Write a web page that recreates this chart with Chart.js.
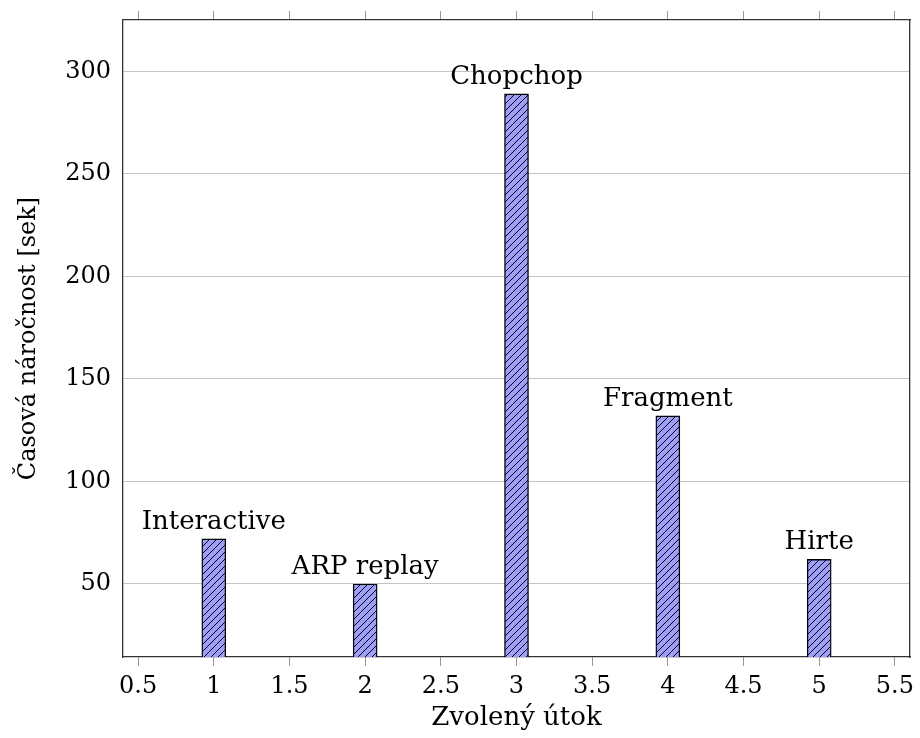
<!DOCTYPE html>
<html>
<head>
<meta charset="utf-8">
<script src="https://cdn.jsdelivr.net/npm/chart.js@4/dist/chart.umd.min.js"></script>
<style>
  html, body { margin: 0; padding: 0; background: #fff; }
  #wrap { width: 920px; height: 738px; }
</style>
</head>
<body>
<div id="wrap"><canvas id="c" width="920" height="738"></canvas></div>
<script>
// data
var attackPos = [1, 2, 3, 4, 5];
var attackNames = ['Interactive', 'ARP replay', 'Chopchop', 'Fragment', 'Hirte'];
var timeSec = [72, 50, 289, 132, 62];
var xTicks = [0.5, 1, 1.5, 2, 2.5, 3, 3.5, 4, 4.5, 5, 5.5];
var yTicks = [50, 100, 150, 200, 250, 300];

var serif = '"DejaVu Serif", "Liberation Serif", serif';

// hatched fill like pgfplots north east lines
function hatch() {
    var s = 7;
    var p = document.createElement('canvas');
    p.width = s; p.height = s;
    var g = p.getContext('2d');
    g.fillStyle = '#9d9dfa';
    g.fillRect(0, 0, s, s);
    g.strokeStyle = '#000';
    g.lineWidth = 1;
    g.beginPath();
    g.moveTo(-1, s + 1); g.lineTo(s + 1, -1);
    g.moveTo(-1, 1); g.lineTo(1, -1);
    g.moveTo(s - 1, s + 1); g.lineTo(s + 1, s - 1);
    g.stroke();
    return document.getElementById('c').getContext('2d').createPattern(p, 'repeat');
}

var barLabels = {
    id: 'barLabels',
    afterDatasetsDraw: function(chart) {
        var ctx = chart.ctx;
        var meta = chart.getDatasetMeta(0);
        ctx.save();
        ctx.font = '26px ' + serif;
        ctx.fillStyle = '#000';
        ctx.textAlign = 'center';
        ctx.textBaseline = 'alphabetic';
        meta.data.forEach(function(bar, i) {
            ctx.fillText(attackNames[i], bar.x, bar.y - 10);
        });
        ctx.restore();
    }
};

var tickFont = { family: serif, size: 24 };
var titleFont = { family: serif, size: 26 };
function setTicks(list) {
    return function(s) { s.ticks = list.map(function(v) { return { value: v }; }); };
}
function plain(v) { return String(v); }
function noPad(s) { s.paddingTop = 0; s.paddingBottom = 0; s.paddingLeft = 0; s.paddingRight = 0; }

new Chart(document.getElementById('c'), {
    type: 'bar',
    data: {
        datasets: [{
            data: attackPos.map(function(x, i) { return { x: x, y: timeSec[i] }; }),
            backgroundColor: hatch(),
            borderColor: '#000',
            borderWidth: 1.4,
            barThickness: 24,
            borderSkipped: false
        }]
    },
    plugins: [barLabels],
    options: {
        responsive: false,
        animation: false,
        layout: { padding: 0 },
        plugins: { legend: { display: false }, tooltip: { enabled: false } },
        scales: {
            x: {
                type: 'linear', position: 'bottom', min: 0.4, max: 5.6, offset: false,
                afterBuildTicks: setTicks(xTicks),
                afterFit: function(s) { s.height = 81; noPad(s); },
                grid: { drawOnChartArea: false, offset: false, tickLength: 9, color: '#999' },
                border: { color: '#333', width: 1.3 },
                ticks: { font: tickFont, color: '#000', padding: 6, maxRotation: 0, autoSkip: false, callback: plain },
                title: { display: true, text: 'Zvolený útok', font: titleFont, color: '#000', padding: { top: 0, bottom: 4 } }
            },
            x2: {
                type: 'linear', position: 'top', min: 0.4, max: 5.6, offset: false,
                afterBuildTicks: setTicks(xTicks),
                afterFit: function(s) { s.height = 20; noPad(s); },
                grid: { drawOnChartArea: false, offset: false, tickLength: 9, color: '#999' },
                border: { color: '#333', width: 1.3 },
                ticks: { callback: function() { return ''; } }
            },
            y: {
                type: 'linear', position: 'left', min: 14.4, max: 325,
                afterBuildTicks: setTicks(yTicks),
                afterFit: function(s) { s.width = 123; noPad(s); },
                grid: { drawTicks: false, color: '#c4c4c4' },
                border: { color: '#333', width: 1.3 },
                ticks: { font: tickFont, color: '#000', padding: 12, callback: plain },
                title: { display: true, text: 'Časová náročnost [sek]', font: tickFont, color: '#000', padding: { top: 14, bottom: 0 } }
            },
            y2: {
                type: 'linear', position: 'right', min: 14.4, max: 325,
                afterFit: function(s) { s.width = 10; noPad(s); },
                grid: { drawOnChartArea: false, drawTicks: false },
                border: { color: '#333', width: 1.3 },
                ticks: { display: false }
            }
        }
    }
});
</script>
</body>
</html>
